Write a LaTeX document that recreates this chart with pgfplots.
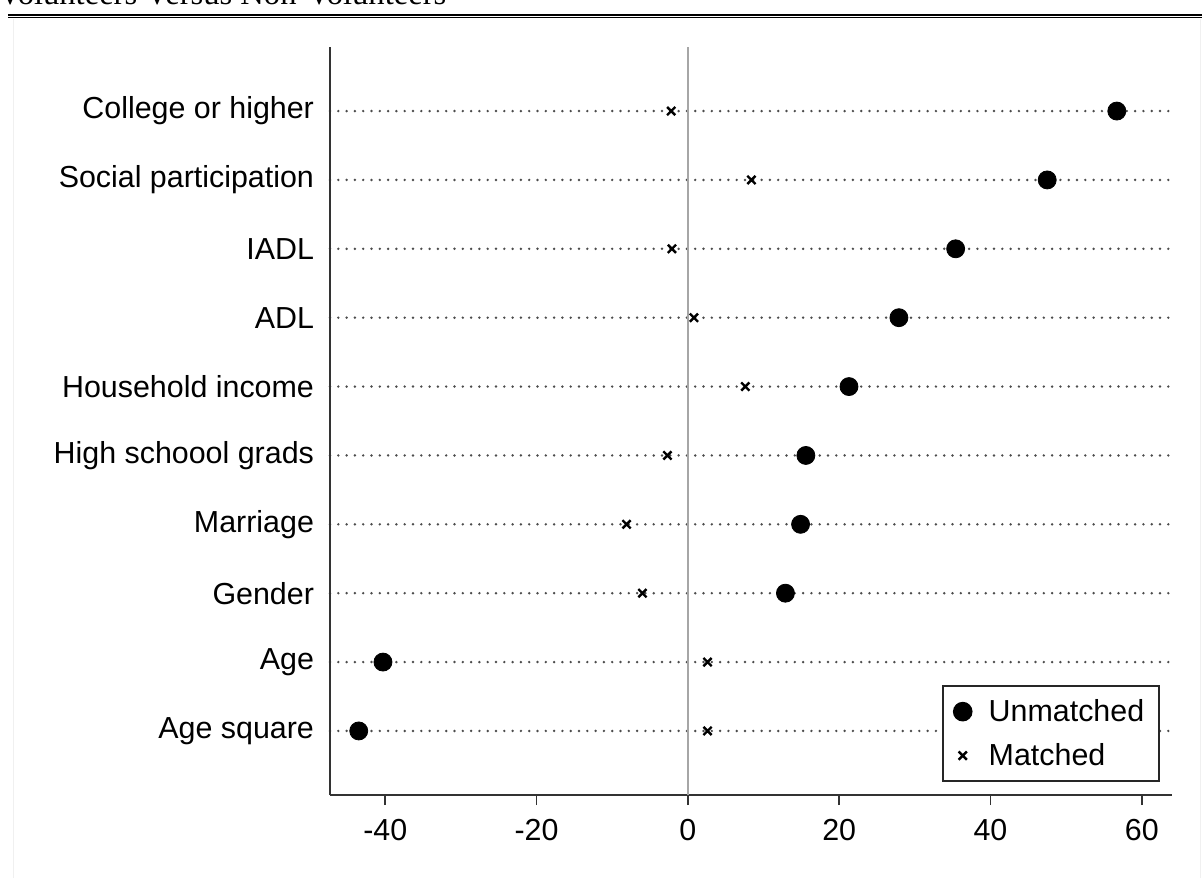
\documentclass[border=0pt]{standalone}
\usepackage{pgfplots}
\pgfplotsset{compat=1.18}
\usepackage{fontspec}
\setmainfont{Liberation Sans}
\newfontfamily\titlefont{Liberation Serif}
\begin{document}
\begin{tikzpicture}
\clip (0,0) rectangle (601pt,438.5pt);
\draw[black!6, line width=0.5pt] (6.5pt,-1pt) -- (6.5pt,429pt);
\draw[black!6, line width=0.5pt] (600pt,-1pt) -- (600pt,429pt);
\node[anchor=base west, inner sep=0pt, font=\titlefont\fontsize{16.3}{18}\selectfont] at (-1pt,436pt) {Volunteers Versus Non-Volunteers};
\draw[line width=1.1pt] (4pt,431.05pt) -- (602pt,431.05pt);
\draw[line width=0.6pt] (4pt,429.6pt) -- (602pt,429.6pt);
\begin{axis}[
  at={(165pt,41pt)}, anchor=south west,
  scale only axis, width=421pt, height=374pt,
  xmin=-47.3, xmax=64, ymin=-0.93, ymax=9.93,
  axis lines*=left,
  axis line style={black!80, line width=1pt, -},
  xtick={-40,-20,0,20,40,60},
  tick align=outside, major tick length=5pt,
  xtick style={black!80, line width=0.8pt},
  ytick={0,1,2,3,4,5,6,7,8,9},
  yticklabels={Age square,Age,Gender,Marriage,High schoool grads,Household income,ADL,IADL,Social participation,College or higher},
  ytick style={draw=none},
  ymajorgrids,
  grid style={black!70, line width=1.35pt, line cap=round, dash pattern=on 0pt off 4.15pt},
  tick label style={font=\fontsize{15.2}{18}\selectfont},
  yticklabel style={xshift=0.5pt},
  xticklabel style={yshift=-3.5pt},
  /pgf/number format/assume math mode=true,
  legend style={at={(0.9857,0.0174)}, anchor=south east, draw=black!85, line width=0.8pt,
    font=\fontsize{15.2}{18}\selectfont, inner xsep=5.5pt, inner ysep=4.5pt, row sep=5.5pt},
  legend cell align=left,
]
\addplot[black!35, line width=1pt, forget plot] coordinates {(0,-0.93) (0,9.93)};
\addplot[only marks, mark=*, mark size=4.5pt, black] coordinates {
(56.7,9) (47.5,8) (35.4,7) (27.9,6) (21.3,5) (15.6,4) (14.9,3) (12.9,2) (-40.3,1) (-43.5,0)};
\addlegendentry{\hspace{6.5pt}Unmatched}
\addplot[only marks, mark=x, mark size=2.9pt, black, mark options={line width=1.2pt}] coordinates {
(-2.2,9) (8.4,8) (-2.1,7) (0.8,6) (7.6,5) (-2.7,4) (-8.1,3) (-6.0,2) (2.6,1) (2.6,0)};
\addlegendentry{\hspace{6.5pt}Matched}
\end{axis}
\end{tikzpicture}
\end{document}
